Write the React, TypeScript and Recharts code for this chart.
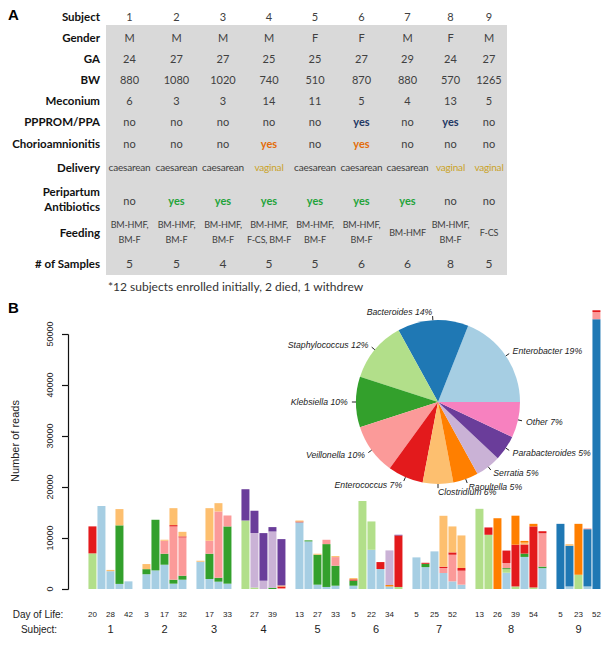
import React from 'react'
import { BarChart, Bar, XAxis, YAxis, PieChart, Pie, Cell } from 'recharts'

// ---- panel A: subject table ----
const subjectIds = ['1', '2', '3', '4', '5', '6', '7', '8', '9']
const gender = ['M', 'M', 'M', 'M', 'F', 'F', 'M', 'F', 'M']
const gestAge = ['24', '27', '27', '25', '25', '27', '29', '24', '27']
const birthWeight = ['880', '1080', '1020', '740', '510', '870', '880', '570', '1265']
const meconium = ['6', '3', '3', '14', '11', '5', '4', '13', '5']
const ppprom = ['no', 'no', 'no', 'no', 'no', 'yes', 'no', 'yes', 'no']
const chorio = ['no', 'no', 'no', 'yes', 'no', 'yes', 'no', 'no', 'no']
const delivery = ['caesarean', 'caesarean', 'caesarean', 'vaginal', 'caesarean', 'caesarean', 'caesarean', 'vaginal', 'vaginal']
const antibiotics = ['no', 'yes', 'yes', 'yes', 'yes', 'yes', 'yes', 'no', 'no']
const feeding = [
  ['BM-HMF,', 'BM-F'], ['BM-HMF,', 'BM-F'], ['BM-HMF,', 'BM-F'], ['BM-HMF,', 'F-CS, BM-F'],
  ['BM-HMF,', 'BM-F'], ['BM-HMF,', 'BM-F'], ['BM-HMF'], ['BM-HMF,', 'BM-F'], ['F-CS'],
]
const nSamples = [5, 5, 4, 5, 5, 6, 6, 8, 5]

// ---- panel B: reads per sample (49 samples, subject order) ----
const taxa = ['Enterobacter', 'Bacteroides', 'Staphylococcus', 'Klebsiella', 'Veillonella', 'Enterococcus', 'Clostridium', 'Raoultella', 'Serratia', 'Parabacteroides', 'Other']
const taxaShare = [19, 14, 12, 10, 10, 7, 6, 5, 5, 5, 7]
const taxaColors = ['#a6cee3', '#1f78b4', '#b2df8a', '#33a02c', '#fb9a99', '#e31a1c', '#fdbf6f', '#ff7f00', '#cab2d6', '#6a3d9a', '#f781bf']

const enterobacter = [0, 16300, 3500, 1000, 1500, 2900, 3650, 4770, 1050, 1830, 5350, 1960, 1440, 1050, 0, 0, 0, 0, 0, 13100, 9350, 850, 400, 650, 650, 0, 7700, 3920, 500, 0, 6210, 4300, 7390, 3140, 1500, 850, 0, 0, 0, 3200, 0, 6300, 0, 4100, 0, 500, 0, 500, 0]
const bacteroides = [0, 0, 0, 0, 0, 0, 0, 0, 0, 0, 0, 0, 0, 0, 0, 0, 0, 0, 0, 0, 0, 0, 0, 0, 0, 0, 0, 0, 0, 0, 0, 0, 0, 0, 0, 0, 0, 0, 0, 0, 0, 0, 0, 0, 12800, 8000, 0, 11250, 53000]
const staphylococcus = [7000, 0, 0, 0, 0, 0, 0, 0, 0, 0, 0, 0, 0, 0, 13460, 300, 0, 0, 0, 0, 0, 0, 0, 0, 0, 17300, 5570, 0, 0, 400, 0, 0, 0, 0, 0, 0, 15750, 10650, 0, 700, 500, 0, 300, 0, 0, 0, 2800, 0, 0]
const klebsiella = [0, 0, 0, 11500, 0, 1000, 9950, 2160, 780, 780, 0, 4970, 780, 11240, 0, 0, 0, 250, 0, 0, 200, 5880, 8420, 3920, 1000, 0, 0, 0, 0, 0, 0, 650, 0, 0, 0, 0, 0, 0, 0, 200, 0, 650, 0, 300, 0, 0, 0, 0, 0]
const veillonella = [0, 0, 0, 0, 0, 0, 0, 2550, 10460, 7520, 0, 2550, 13010, 2150, 0, 0, 0, 0, 200, 0, 0, 0, 850, 1700, 0, 0, 0, 0, 0, 0, 0, 0, 0, 980, 5230, 2750, 0, 0, 0, 1000, 0, 0, 0, 6550, 0, 0, 0, 150, 1400]
const enterococcus = [5300, 0, 0, 0, 0, 0, 0, 0, 260, 200, 0, 0, 0, 0, 0, 0, 0, 0, 300, 150, 0, 0, 0, 0, 250, 0, 0, 1370, 0, 10120, 0, 200, 0, 260, 460, 520, 0, 1440, 0, 2450, 8200, 1800, 12000, 400, 0, 0, 0, 0, 350]
const clostridium = [0, 0, 250, 3200, 0, 1000, 0, 200, 3330, 900, 200, 6400, 1630, 0, 0, 0, 0, 0, 200, 200, 0, 200, 0, 200, 250, 0, 0, 0, 0, 0, 0, 0, 0, 10000, 5100, 6400, 0, 0, 0, 0, 0, 350, 0, 0, 0, 300, 0, 0, 0]
const raoultella = [0, 0, 0, 0, 0, 0, 0, 0, 0, 0, 0, 0, 0, 0, 0, 0, 0, 0, 0, 0, 0, 0, 0, 0, 0, 0, 0, 0, 280, 0, 0, 0, 0, 0, 0, 0, 0, 0, 13900, 0, 5700, 350, 500, 0, 0, 0, 10000, 0, 0]
const serratia = [0, 0, 0, 0, 0, 0, 0, 0, 0, 0, 0, 0, 0, 0, 0, 10700, 1630, 11050, 0, 0, 0, 0, 0, 0, 0, 0, 0, 0, 6800, 0, 0, 0, 0, 0, 0, 0, 0, 0, 0, 0, 0, 0, 0, 0, 0, 0, 0, 0, 0]
const parabacteroides = [0, 0, 0, 0, 0, 0, 0, 0, 0, 0, 0, 0, 0, 0, 6140, 4380, 9350, 860, 9100, 0, 0, 0, 0, 0, 0, 0, 0, 0, 0, 130, 0, 0, 0, 0, 0, 0, 0, 0, 0, 0, 0, 0, 0, 0, 0, 0, 0, 0, 0]

const dayOfLife = [
  '20', '', '28', '', '42',
  '3', '', '17', '', '32',
  '', '17', '', '33',
  '', '27', '', '39', '',
  '13', '', '27', '', '33',
  '5', '', '22', '', '34', '',
  '5', '', '25', '', '52', '',
  '13', '', '26', '', '39', '', '54', '',
  '5', '', '23', '', '52',
]

const yTicks = [0, 10000, 20000, 30000, 40000, 50000]

const readsByTaxon = [enterobacter, bacteroides, staphylococcus, klebsiella, veillonella, enterococcus, clostridium, raoultella, serratia, parabacteroides]

// one row per sample, an empty row between subjects
const rows: any[] = []
let sampleIdx = 0
subjectIds.forEach((s, si) => {
  for (let k = 0; k < nSamples[si]; k++) {
    const row: any = { key: `${s}-${k}`, day: dayOfLife[sampleIdx], subject: k === 0 ? s : '', groupSize: nSamples[si] }
    readsByTaxon.forEach((arr, ti) => { row[taxa[ti]] = arr[sampleIdx] })
    rows.push(row)
    sampleIdx++
  }
  if (si < subjectIds.length - 1) rows.push({ key: `gap-${s}`, day: '', subject: '' })
})

const pieData = taxa.map((name, i) => ({ name, value: taxaShare[i] }))

const FONT_T = 'Lato, "Open Sans", sans-serif'
const FONT_R = '"Liberation Sans", Arial, sans-serif'

const PLOT_LEFT = 88
const PLOT_RIGHT = 601
const SLOT = (PLOT_RIGHT - PLOT_LEFT) / rows.length

// y-axis chart: plot spans 0..50000 between these margins of a 345px tall chart
const AXIS_TOP = 34
const AXIS_BOTTOM = 56
const AXIS_STEP = ((345 - AXIS_TOP - AXIS_BOTTOM) * (yTicks[1] - yTicks[0])) / yTicks[yTicks.length - 1]

const colEdges = [106, 153, 200, 246, 292, 338, 385, 430, 471, 507]

function DayTick(props: any) {
  const { x, y, index } = props
  const row = rows[index]
  if (!row) return null
  return (
    <g fontFamily={FONT_R} fill="#222">
      {row.day ? <text x={x} y={y + 28} textAnchor="middle" fontSize={8}>{row.day}</text> : null}
      {row.subject ? (
        <text x={x + ((row.groupSize - 1) / 2) * SLOT} y={y + 44} textAnchor="middle" fontSize={11}>{row.subject}</text>
      ) : null}
    </g>
  )
}

// R-style axis: label parallel to the axis, line only between the outer ticks
function ReadsTick(props: any) {
  const { x, y, payload } = props
  const x0 = x - 7
  const axisX = Math.round(x + 8) + 0.5
  const yy = Math.round(y) + 0.5
  return (
    <g>
      <path d={`M${x + 2},${yy}H${axisX}`} stroke="#111" strokeWidth={1.2} fill="none" />
      {payload.value > 0 ? <path d={`M${axisX},${yy}V${yy + AXIS_STEP}`} stroke="#111" strokeWidth={1.2} fill="none" /> : null}
      <text x={x0} y={y} transform={`rotate(-90 ${x0} ${y})`} textAnchor="middle" fontSize={9} fontFamily={FONT_R} fill="#222" stroke="none">
        {payload.value}
      </text>
    </g>
  )
}

function renderPieLabel(p: any) {
  const rad = Math.PI / 180
  const cos = Math.cos(-p.midAngle * rad)
  const sin = Math.sin(-p.midAngle * rad)
  const r = p.outerRadius
  // like R's pie(): right-align only when clearly left of centre
  const anchor = cos < -1e-6 ? 'end' : 'start'
  return (
    <g>
      <path d={`M${p.cx + r * cos},${p.cy + r * sin}L${p.cx + 1.05 * r * cos},${p.cy + 1.05 * r * sin}`} stroke="#222" strokeWidth={1} fill="none" />
      <text x={p.cx + 1.1 * r * cos} y={p.cy + 1.1 * r * sin} textAnchor={anchor} dominantBaseline="central"
        fontSize={8.7} fontStyle="italic" fontFamily={FONT_R} fill="#222" stroke="none">
        {`${p.name} ${p.value}%`}
      </text>
    </g>
  )
}

function Cellish({ col, y, children, style }: any) {
  return (
    <div style={{ position: 'absolute', left: colEdges[col] - 4, width: colEdges[col + 1] - colEdges[col] + 8, top: y - 16, height: 32,
      display: 'flex', flexDirection: 'column', alignItems: 'center', justifyContent: 'center', textAlign: 'center',
      whiteSpace: 'nowrap', ...style }}>
      {children}
    </div>
  )
}

function Label({ y, children }: any) {
  return (
    <div style={{ position: 'absolute', right: 612 - 100, top: y - 16, height: 32, display: 'flex', flexDirection: 'column',
      justifyContent: 'center', alignItems: 'flex-end', fontWeight: 700, fontSize: 11.5, color: '#111', lineHeight: '15px',
      textAlign: 'right', whiteSpace: 'nowrap' }}>
      {children}
    </div>
  )
}

export default function App() {
  const plainRows = [
    { label: 'Gender', values: gender, y: 37 },
    { label: 'GA', values: gestAge, y: 58 },
    { label: 'BW', values: birthWeight, y: 79 },
    { label: 'Meconium', values: meconium, y: 100 },
  ]
  const flagColor = (v: string, c: string) => (v === 'yes' ? { color: c, fontWeight: 700 } : {})

  return (
    <div style={{ position: 'absolute', left: 0, top: 0, width: 612, height: 645, background: '#fff', overflow: 'hidden', fontFamily: FONT_T }}>
      {/* Panel A */}
      <div style={{ position: 'absolute', left: 8, top: 6, fontFamily: FONT_R, fontWeight: 700, fontSize: 15 }}>A</div>
      <div style={{ position: 'absolute', left: colEdges[0], top: 25, width: colEdges[9] - colEdges[0], height: 250, background: '#d9d9d9' }} />
      <div style={{ fontSize: 11, color: '#404040' }}>
        <Label y={16}>Subject</Label>
        {subjectIds.map((v, i) => <Cellish key={i} col={i} y={16}>{v}</Cellish>)}
        {plainRows.map(r => (
          <React.Fragment key={r.label}>
            <Label y={r.y}>{r.label}</Label>
            {r.values.map((v, i) => <Cellish key={i} col={i} y={r.y}>{v}</Cellish>)}
          </React.Fragment>
        ))}
        <Label y={121}>PPPROM/PPA</Label>
        {ppprom.map((v, i) => <Cellish key={i} col={i} y={121} style={flagColor(v, '#1f3864')}>{v}</Cellish>)}
        <Label y={143}>Chorioamnionitis</Label>
        {chorio.map((v, i) => <Cellish key={i} col={i} y={143} style={flagColor(v, '#e36c09')}>{v}</Cellish>)}
        <Label y={167}>Delivery</Label>
        {delivery.map((v, i) => (
          <Cellish key={i} col={i} y={167} style={{ fontSize: 10, letterSpacing: -0.2, ...(v === 'vaginal' ? { color: '#c9a227' } : {}) }}>{v}</Cellish>
        ))}
        <Label y={199}><span>Peripartum</span><span>Antibiotics</span></Label>
        {antibiotics.map((v, i) => <Cellish key={i} col={i} y={200} style={flagColor(v, '#1fa33a')}>{v}</Cellish>)}
        <Label y={232}>Feeding</Label>
        {feeding.map((v, i) => (
          <Cellish key={i} col={i} y={232} style={{ fontSize: 9, lineHeight: '15px', letterSpacing: -0.2 }}>
            {v.map((t, j) => <span key={j}>{t}</span>)}
          </Cellish>
        ))}
        <Label y={263}># of Samples</Label>
        {nSamples.map((v, i) => <Cellish key={i} col={i} y={263} style={{ fontSize: 12 }}>{v}</Cellish>)}
      </div>
      <div style={{ position: 'absolute', left: 108, top: 279, fontSize: 12, color: '#333' }}>*12 subjects enrolled initially, 2 died, 1 withdrew</div>

      {/* Panel B */}
      <svg width={612} height={645} style={{ position: 'absolute', left: 0, top: 0 }} fontFamily={FONT_R}>
        <text x={8} y={313} fontWeight={700} fontSize={15}>B</text>
        <text x={19} y={441} transform="rotate(-90 19 441)" textAnchor="middle" fontSize={11} fill="#222">Number of reads</text>
        <text x={38} y={618} textAnchor="middle" fontSize={10} fill="#222">Day of Life:</text>
        <text x={39} y={633} textAnchor="middle" fontSize={10} fill="#222">Subject:</text>
      </svg>

      <div style={{ position: 'absolute', left: 0, top: 300 }}>
        <BarChart width={612} height={345} data={rows} margin={{ top: AXIS_TOP, right: 0, bottom: AXIS_BOTTOM, left: 8 }}>
          <XAxis dataKey="key" hide />
          <YAxis width={60} domain={[0, 50000]} ticks={yTicks} interval={0} allowDataOverflow tick={<ReadsTick />}
            axisLine={false} tickLine={false} tickSize={6} tickMargin={2} />
        </BarChart>
      </div>

      <div style={{ position: 'absolute', left: 0, top: 300 }}>
        <BarChart width={612} height={345} data={rows} margin={{ top: 9, right: 612 - PLOT_RIGHT, bottom: 0, left: PLOT_LEFT }} barCategoryGap="5%">
          <XAxis dataKey="key" height={56} interval={0} axisLine={false} tickLine={false} tickSize={0} tickMargin={0} tick={<DayTick />} />
          <YAxis hide domain={[0, 55000]} />
          {readsByTaxon.map((_, ti) => (
            <Bar key={taxa[ti]} dataKey={taxa[ti]} stackId="reads" fill={taxaColors[ti]} isAnimationActive={false} />
          ))}
        </BarChart>
      </div>

      <div style={{ position: 'absolute', left: 0, top: 300 }}>
        <PieChart width={612} height={345}>
          <Pie data={pieData} dataKey="value" nameKey="name" cx={433} cy={97} outerRadius={82} startAngle={0} endAngle={360}
            stroke="none" label={renderPieLabel} labelLine={false} isAnimationActive={false}>
            {pieData.map((d, i) => <Cell key={d.name} fill={taxaColors[i]} />)}
          </Pie>
        </PieChart>
      </div>
    </div>
  )
}
